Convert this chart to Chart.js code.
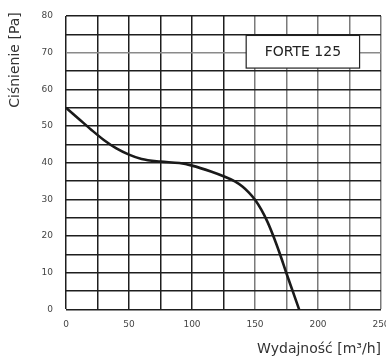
<!DOCTYPE html>
<html>
<head>
<meta charset="utf-8">
<script src="https://cdn.jsdelivr.net/npm/chart.js@4"></script>
<style>
	html, body { margin: 0; padding: 0; background: #fff; }
	#wrap { width: 386px; height: 358px; }
</style>
</head>
<body>
<div id="wrap"><canvas id="fanChart"></canvas></div>
<script>
// flow [m3/h] vs pressure [Pa]
const flowValues = [0, 10, 20, 30, 40, 50, 60, 75, 90, 100, 115, 125, 134, 140, 145, 150, 155, 160, 165, 170, 175, 180, 185];
const pressureValues = [55, 52.0, 49.0, 46.2, 43.9, 42.2, 41.0, 40.3, 39.9, 39.2, 37.6, 36.3, 34.9, 33.5, 31.9, 29.9, 27.2, 23.8, 19.6, 14.9, 9.8, 4.9, 0];
const modelName = "FORTE 125";
const xTitle = "Wydajność [m³/h]";
const yTitle = "Ciśnienie [Pa]";

const points = flowValues.map((x, i) => ({ x: x, y: pressureValues[i] }));

// white box with the model name, top right of the grid
const labelBox = {
	id: "labelBox",
	afterDatasetsDraw(chart) {
		const { ctx, scales: { x, y } } = chart;
		const left = x.getPixelForValue(143), right = x.getPixelForValue(233);
		const top = y.getPixelForValue(74.7), bottom = y.getPixelForValue(65.8);
		ctx.save();
		ctx.fillStyle = "#fff";
		ctx.fillRect(left, top, right - left, bottom - top);
		ctx.strokeStyle = "#222";
		ctx.lineWidth = 1.2;
		ctx.strokeRect(left, top, right - left, bottom - top);
		ctx.fillStyle = "#222";
		ctx.font = "14px 'DejaVu Sans'";
		ctx.textAlign = "center";
		ctx.textBaseline = "middle";
		ctx.fillText(modelName, (left + right) / 2, (top + bottom) / 2 + 1);

		// y axis title, sits high on the left
		ctx.translate(15, 60);
		ctx.rotate(-Math.PI / 2);
		ctx.font = "14px 'DejaVu Sans'";
		ctx.fillStyle = "#333";
		ctx.fillText(yTitle, 0, 0);
		ctx.restore();
	}
};

new Chart(document.getElementById("fanChart"), {
	type: "scatter",
	data: {
		datasets: [{
			data: points,
			showLine: true,
			borderColor: "#1a1a1a",
			borderWidth: 2.6,
			pointRadius: 0,
			cubicInterpolationMode: "monotone",
			fill: false
		}]
	},
	options: {
		responsive: true,
		maintainAspectRatio: false,
		animation: false,
		layout: { padding: { top: 16, right: 5, left: 0, bottom: 0 } },
		plugins: { legend: { display: false }, tooltip: { enabled: false } },
		scales: {
			x: {
				min: 0, max: 250,
				ticks: {
					stepSize: 25,
					autoSkip: false,
					maxRotation: 0,
					padding: 10,
					color: "#444",
					font: { size: 9, family: "'DejaVu Sans'" },
					callback: v => (v % 50 === 0 ? v : "")
				},
				grid: {
					drawTicks: false,
					lineWidth: 1.5,
					color: c => (c.tick && c.tick.value >= 150 ? "#7a7a7a" : "#1e1e1e")
				},
				border: { display: false },
				title: {
					display: true,
					text: xTitle,
					align: "end",
					color: "#333",
					font: { size: 14, family: "'DejaVu Sans'" },
					padding: { top: 1, bottom: 0 }
				},
				afterFit(scale) { scale.paddingRight = 0; scale.paddingLeft = 0; }
			},
			y: {
				min: 0, max: 80,
				ticks: {
					stepSize: 5,
					autoSkip: false,
					padding: 13,
					color: "#444",
					font: { size: 9, family: "'DejaVu Sans'" },
					callback: v => (v % 10 === 0 ? v : "")
				},
				grid: {
					drawTicks: false,
					lineWidth: 1.5,
					color: c => (c.tick && c.tick.value === 70 ? "#8a8a8a" : "#1e1e1e")
				},
				border: { display: false },
				afterFit(scale) { scale.width = 66; scale.paddingTop = 0; scale.paddingBottom = 0; }
			}
		}
	},
	plugins: [labelBox]
});
</script>
</body>
</html>
